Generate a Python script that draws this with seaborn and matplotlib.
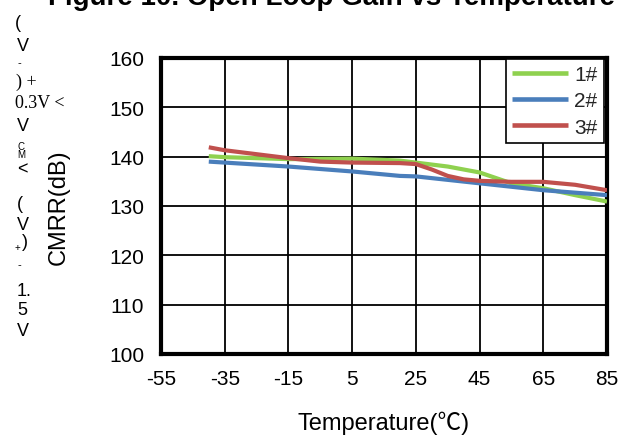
import matplotlib
matplotlib.use("Agg")
import matplotlib.pyplot as plt
import seaborn as sns
import pandas as pd

# Sample temperatures (°C) and CMRR readings (dB) for each device
temp_1 = [-40, -35, -15, 5, 20, 25, 35, 45, 55, 65, 75, 85]
cmrr_1 = [140.1, 139.9, 139.5, 139.6, 139.2, 138.8, 138.0, 136.8, 134.6, 133.6, 132.2, 130.9]

temp_2 = [-40, -35, -15, 5, 20, 25, 45, 65, 85]
cmrr_2 = [139.0, 138.8, 138.0, 137.0, 136.1, 136.0, 134.6, 133.2, 132.2]

temp_3 = [-40, -35, -25, -15, -5, 5, 20, 25, 30, 35, 40, 45, 55, 65, 75, 85]
cmrr_3 = [141.9, 141.3, 140.5, 139.7, 139.0, 138.8, 138.7, 138.5, 137.4, 136.1, 135.4, 135.1, 134.9, 134.9, 134.3, 133.2]

series_names = ["1#", "2#", "3#"]
series_colors = ["#8FD14F", "#4A7EBB", "#C0504D"]

x_ticks = [-55, -35, -15, 5, 25, 45, 65, 85]
y_ticks = [100, 110, 120, 130, 140, 150, 160]

title_text = "Figure 10. Open Loop Gain vs Temperature"
x_label = "Temperature(℃)"
y_label = "CMRR(dB)"

frames = []
for name, t, v in zip(series_names, [temp_1, temp_2, temp_3], [cmrr_1, cmrr_2, cmrr_3]):
    frames.append(pd.DataFrame({"Temperature": t, "CMRR": v, "Device": name}))
df = pd.concat(frames, ignore_index=True)

sns.set_style("white")
plt.rcParams["font.family"] = ["Liberation Sans", "Noto Sans CJK SC", "DejaVu Sans"]

W, H = 627, 439
fig = plt.figure(figsize=(W / 100, H / 100), dpi=100)
ax = fig.add_axes([161 / W, 1 - 355 / H, (607 - 161) / W, (355 - 59) / H])

sns.lineplot(data=df, x="Temperature", y="CMRR", hue="Device",
             palette=dict(zip(series_names, series_colors)),
             estimator=None, linewidth=3.0, ax=ax, zorder=3)
for ln in ax.get_lines():
    ln.set_solid_joinstyle("round")
    ln.set_solid_capstyle("butt")

ax.set_xlim(-55, 85)
ax.set_ylim(100, 160)
ax.set_xticks(x_ticks)
ax.set_yticks(y_ticks)
ax.set_xticklabels([str(t) for t in x_ticks])
ax.set_yticklabels([str(t) for t in y_ticks])
ax.tick_params(axis="x", length=0, labelsize=15, pad=11, colors="black")
ax.tick_params(axis="y", length=0, labelsize=15, pad=12, colors="black")
ax.grid(True, color="black", linewidth=1.3)
ax.set_axisbelow(True)
for sp in ax.spines.values():
    sp.set_visible(True)
    sp.set_color("black")
    sp.set_linewidth(3.0)

ax.set_xlabel(x_label, fontsize=17, color="black")
ax.xaxis.set_label_coords(0.5, -0.19)
ax.set_ylabel(y_label, fontsize=17, color="black")
ax.yaxis.set_label_coords(-0.204, 0.5)

leg = ax.legend(loc="upper right", bbox_to_anchor=(0.993, 0.997), borderaxespad=0,
                fontsize=15, frameon=True, fancybox=False, framealpha=1,
                edgecolor="black", handlelength=2.7, handletextpad=0.3,
                labelspacing=0.35, borderpad=0.3, title=None)
leg.get_frame().set_linewidth(1.2)
for line in leg.get_lines():
    line.set_linewidth(3.3)

# Title, clipped at the top edge of the figure
fig.text(331 / W, 1 - 5 / H, title_text, ha="center", va="baseline",
         fontsize=20, fontweight="bold", color="black")

# Common-mode range note, stacked down the left margin
sans = ["Liberation Sans", "DejaVu Sans"]
serif = ["Liberation Serif", "DejaVu Serif"]
note_pieces = [
    ("(", 15, 23, 13, sans),
    ("V", 17, 46.5, 13, sans),
    ("-", 17, 63, 8, sans),
    (") +", 16, 82.5, 13, serif),
    ("0.3V <", 15, 104, 13, serif),
    ("V", 17, 126.5, 13, sans),
    ("C", 17, 146.5, 7, sans),
    ("M", 17, 155.5, 7, sans),
    ("<", 17, 170, 13, sans),
    ("(", 17, 205, 13, sans),
    ("V", 17, 225, 13, sans),
    ("+", 15, 248, 7, sans),
    (")", 22, 243, 13, sans),
    ("-", 17, 265, 8, sans),
    ("1.", 17, 292, 13, sans),
    ("5", 17, 311, 13, sans),
    ("V", 17, 332, 13, sans),
]
for txt, px, py, fs, fam in note_pieces:
    fig.text(px / W, 1 - py / H, txt, ha="left", va="center",
             fontsize=fs, family=fam, color="black")

fig.savefig("out.png", dpi=100, facecolor="white")
